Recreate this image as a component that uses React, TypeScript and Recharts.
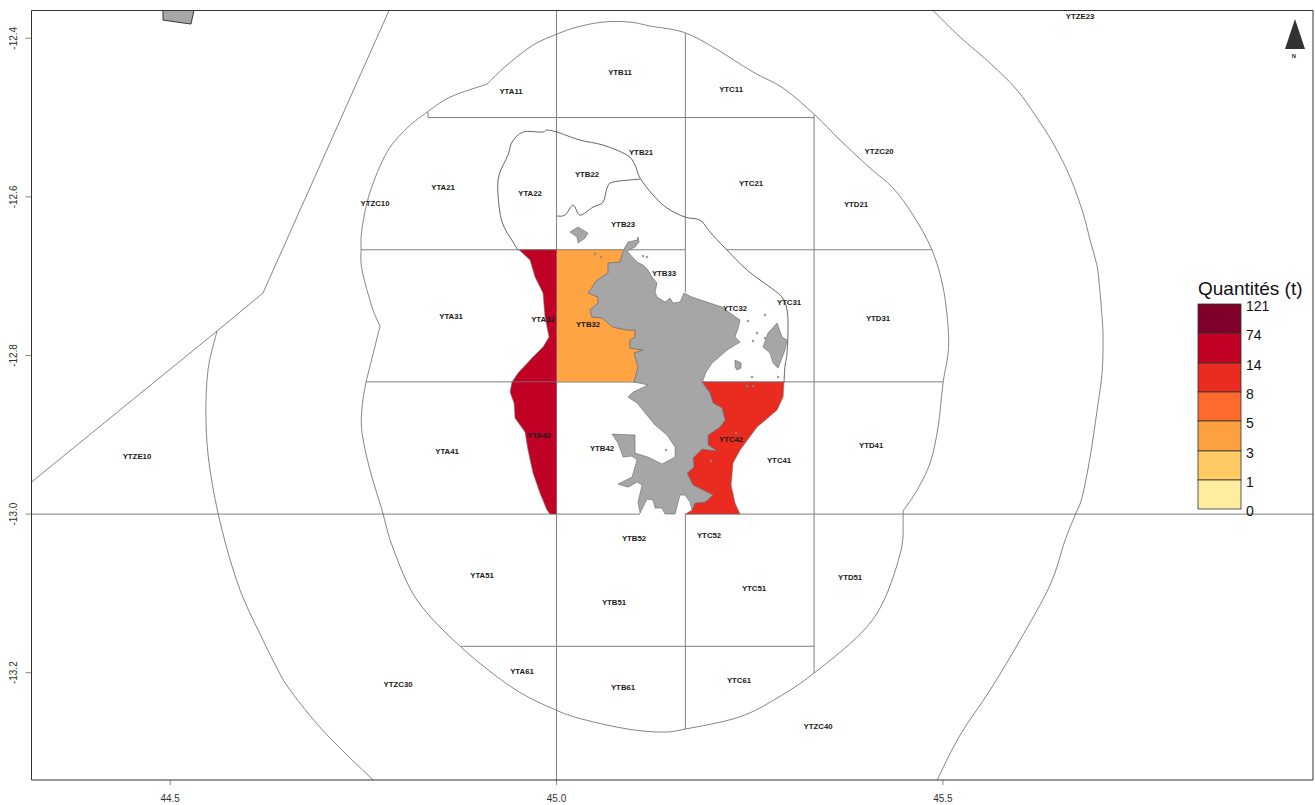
import React from "react";
import { ScatterChart, Scatter, XAxis, YAxis } from "recharts";

type Pt = [number, number];

const lonDomain: Pt = [44.3205, 45.979];
const latDomain: Pt = [-13.3353, -12.365];
const lonTicks = [44.5, 45, 45.5];
const latTicks = [-12.4, -12.6, -12.8, -13, -13.2];

const eezLine: Pt[] = [[44.3205, -12.9596], [44.5606, -12.7692], [44.6201, -12.7213], [44.7832, -12.365]];
const zcLeft: Pt[] = [[44.5606, -12.7692], [44.5489, -12.8184], [44.5463, -12.8815], [44.5515, -12.9445], [44.5671, -13.0202], [44.5904, -13.0958], [44.6201, -13.1589], [44.6395, -13.1967], [44.6525, -13.2182], [44.6835, -13.2572], [44.7159, -13.2913], [44.7625, -13.3353]];
const zcRight: Pt[] = [[45.4873, -12.365], [45.5222, -12.3985], [45.5611, -12.4313], [45.596, -12.4653], [45.6193, -12.4969], [45.6426, -12.5322], [45.6646, -12.575], [45.6814, -12.6204], [45.6905, -12.6545], [45.697, -12.6772], [45.7009, -12.6961], [45.706, -12.7516], [45.7073, -12.7806], [45.706, -12.8222], [45.6996, -12.8689], [45.6905, -12.9281], [45.6802, -12.9786], [45.6711, -13.0013], [45.6582, -13.0328], [45.6387, -13.0895], [45.5999, -13.1589], [45.5611, -13.2219], [45.5222, -13.2787], [45.4925, -13.3353]];
const reefRing: Pt[] = [[44.8324, -12.4931], [44.8622, -12.4742], [44.91, -12.4578], [44.9359, -12.4338], [44.9696, -12.4086], [45.0006, -12.3947], [45.0265, -12.3859], [45.0602, -12.3796], [45.0951, -12.3796], [45.121, -12.3846], [45.1637, -12.3922], [45.2026, -12.4111], [45.2543, -12.4426], [45.2932, -12.4628], [45.3346, -12.4969], [45.3669, -12.5284], [45.4058, -12.5637], [45.4355, -12.5889], [45.4614, -12.623], [45.486, -12.6671], [45.5002, -12.7138], [45.5067, -12.7642], [45.5067, -12.797], [45.5002, -12.8348], [45.4938, -12.8903], [45.4834, -12.9357], [45.4666, -12.9697], [45.4485, -12.9962], [45.4485, -13.0076], [45.4459, -13.0454], [45.4239, -13.1084], [45.3941, -13.1501], [45.3333, -13.2005], [45.2854, -13.232], [45.2362, -13.256], [45.1663, -13.2711], [45.1365, -13.2749], [45.0925, -13.2711], [45.0382, -13.2598], [44.9994, -13.2472], [44.9437, -13.2194], [44.8764, -13.1677], [44.8194, -13.1084], [44.7884, -13.0429], [44.7741, -12.995], [44.7586, -12.9445], [44.7483, -12.8979], [44.7483, -12.8651], [44.7534, -12.8335], [44.7716, -12.7629], [44.7612, -12.739], [44.7483, -12.6923], [44.747, -12.6671], [44.7483, -12.6394], [44.7586, -12.594], [44.7806, -12.5435], [44.8065, -12.5133], [44.8324, -12.4931]];
const ringBreaks = [0, 2, 27, 28, 48, 49, 57];
const coastLine: Pt[] = [[44.9502, -12.6671], [44.9437, -12.657], [44.9295, -12.6318], [44.9243, -12.5977], [44.9256, -12.5725], [44.9372, -12.5473], [44.9424, -12.5309], [44.9566, -12.5183], [44.9812, -12.5183], [44.9877, -12.5158], [45.0006, -12.5183], [45.0304, -12.5284], [45.0602, -12.5347], [45.0912, -12.5473], [45.1016, -12.5599], [45.1081, -12.5763], [45.1249, -12.5977], [45.143, -12.6141], [45.1663, -12.6255], [45.1857, -12.6293], [45.1987, -12.6444], [45.2181, -12.6646], [45.2466, -12.6923], [45.2725, -12.7112], [45.2919, -12.7264], [45.2983, -12.7428], [45.2996, -12.7642], [45.2983, -12.797], [45.2957, -12.8134], [45.2944, -12.8335]];
const innerLine: Pt[] = [[45.1081, -12.5776], [45.0731, -12.5813], [45.0654, -12.5889], [45.0602, -12.6066], [45.0472, -12.6129], [45.0304, -12.623], [45.0214, -12.6104], [45.011, -12.623], [45.0006, -12.6242]];

const gridSegments: Pt[][] = [
  [[44.8337, -12.4931], [44.8337, -12.5], [45.3333, -12.5]],
  [[44.747, -12.6667], [45.1667, -12.6667]],
  [[45.2207, -12.6667], [45.486, -12.6667]],
  [[44.7534, -12.8333], [45.5002, -12.8333]],
  [[44.3205, -13], [45.1081, -13]],
  [[45.1667, -13], [45.979, -13]],
  [[44.8764, -13.1667], [45.3333, -13.1667]],
  [[45, -12.365], [45, -13.3353]],
  [[45.1667, -12.3935], [45.1667, -12.7201]],
  [[45.1667, -13], [45.1667, -13.2711]],
  [[45.3333, -12.4969], [45.3333, -13.2005]],
];

const frameLine: Pt[] = [[44.3205, -12.365], [45.979, -12.365], [45.979, -13.3353], [44.3205, -13.3353], [44.3205, -12.365]];

const zoneYTB32: Pt[] = [[45, -12.6667], [45.0861, -12.6667], [45.0822, -12.6822], [45.0667, -12.6835], [45.0667, -12.6961], [45.0524, -12.7049], [45.0408, -12.7213], [45.0537, -12.7264], [45.0537, -12.7339], [45.0434, -12.7428], [45.0459, -12.7516], [45.0589, -12.7528], [45.0731, -12.7642], [45.0912, -12.768], [45.1016, -12.768], [45.1016, -12.7768], [45.0951, -12.7806], [45.0951, -12.7907], [45.112, -12.7932], [45.1003, -12.797], [45.1055, -12.8146], [45.1003, -12.8333], [45, -12.8333]];
const zoneYTA32: Pt[] = [[44.9515, -12.6667], [44.9657, -12.6797], [44.9722, -12.7011], [44.9825, -12.7213], [44.9851, -12.7516], [44.9903, -12.7768], [44.9825, -12.7894], [44.9683, -12.8033], [44.9502, -12.8222], [44.9424, -12.8333], [45, -12.8333], [45, -12.6667]];
const zoneYTA42: Pt[] = [[44.9424, -12.8333], [44.9398, -12.8462], [44.945, -12.86], [44.9463, -12.8789], [44.9592, -12.8966], [44.9631, -12.9193], [44.9696, -12.9483], [44.9786, -12.9735], [44.9877, -12.995], [44.9916, -13], [45, -13], [45, -12.8333]];
const zoneYTC42: Pt[] = [[45.2944, -12.8333], [45.2932, -12.8525], [45.2854, -12.8689], [45.2595, -12.8903], [45.2375, -12.9193], [45.2284, -12.9357], [45.2259, -12.9634], [45.231, -12.9861], [45.2375, -13], [45.1667, -13], [45.1754, -12.995], [45.1793, -12.9861], [45.1922, -12.9849], [45.2026, -12.976], [45.1948, -12.9723], [45.1767, -12.9634], [45.1689, -12.9483], [45.178, -12.9407], [45.1767, -12.9294], [45.1883, -12.918], [45.2077, -12.9206], [45.1961, -12.913], [45.1961, -12.9004], [45.2116, -12.8903], [45.2181, -12.8815], [45.2142, -12.8663], [45.2026, -12.86], [45.1987, -12.8474], [45.1883, -12.8333]];

const mainIsland: Pt[] = [[45.0887, -12.6633], [45.0925, -12.657], [45.1042, -12.6545], [45.1055, -12.6507], [45.1068, -12.657], [45.1016, -12.6633], [45.0912, -12.6684], [45.1042, -12.6822], [45.112, -12.686], [45.1184, -12.6923], [45.1236, -12.7011], [45.1301, -12.7087], [45.1275, -12.7201], [45.1301, -12.7264], [45.1404, -12.7327], [45.1469, -12.7276], [45.1508, -12.7339], [45.1598, -12.7327], [45.165, -12.7213], [45.1754, -12.7264], [45.1948, -12.7327], [45.2142, -12.739], [45.2246, -12.7465], [45.2375, -12.7554], [45.2349, -12.7655], [45.231, -12.7768], [45.2375, -12.7831], [45.2207, -12.7932], [45.209, -12.8033], [45.2013, -12.8096], [45.1935, -12.8209], [45.1883, -12.8348], [45.1987, -12.8474], [45.2026, -12.86], [45.2142, -12.8663], [45.2181, -12.8815], [45.2116, -12.8903], [45.1961, -12.9004], [45.1961, -12.913], [45.2077, -12.9206], [45.1883, -12.918], [45.1767, -12.9294], [45.178, -12.9407], [45.1689, -12.9483], [45.1767, -12.9634], [45.1948, -12.9723], [45.2026, -12.976], [45.1922, -12.9849], [45.1793, -12.9861], [45.1754, -12.995], [45.1728, -12.9849], [45.1663, -12.976], [45.1598, -12.976], [45.1573, -12.9849], [45.1534, -13], [45.1404, -13], [45.1365, -12.9924], [45.1275, -12.9924], [45.1249, -12.9823], [45.1171, -12.9811], [45.1081, -12.9987], [45.1055, -12.9849], [45.1107, -12.9634], [45.1042, -12.9596], [45.0925, -12.966], [45.0796, -12.9622], [45.0977, -12.9533], [45.1042, -12.9319], [45.0977, -12.9269], [45.0861, -12.9281], [45.0796, -12.9105], [45.0718, -12.8991], [45.1016, -12.9004], [45.1016, -12.9231], [45.1184, -12.9281], [45.1365, -12.9369], [45.1534, -12.9281], [45.1534, -12.9155], [45.143, -12.9004], [45.1275, -12.8878], [45.1042, -12.86], [45.0925, -12.8525], [45.099, -12.8462], [45.1184, -12.8373], [45.1003, -12.8335], [45.1055, -12.8146], [45.1003, -12.797], [45.112, -12.7932], [45.0951, -12.7907], [45.0951, -12.7806], [45.1016, -12.7768], [45.1016, -12.768], [45.0912, -12.768], [45.0731, -12.7642], [45.0589, -12.7528], [45.0459, -12.7516], [45.0434, -12.7428], [45.0537, -12.7339], [45.0537, -12.7264], [45.0408, -12.7213], [45.0524, -12.7049], [45.0667, -12.6961], [45.0667, -12.6835], [45.0822, -12.6822], [45.0861, -12.6696]];
const pamandzi: Pt[] = [[45.2854, -12.7591], [45.2919, -12.7768], [45.2983, -12.7806], [45.2957, -12.7932], [45.2867, -12.8159], [45.2802, -12.8096], [45.2763, -12.797], [45.2673, -12.7894], [45.2737, -12.7718]];
const islet: Pt[] = [[45.231, -12.8058], [45.2388, -12.8096], [45.2388, -12.8159], [45.2336, -12.8184], [45.231, -12.8146]];
const mtsamboro: Pt[] = [[45.0175, -12.6444], [45.0278, -12.6381], [45.0408, -12.6457], [45.0369, -12.652], [45.0278, -12.6583], [45.0265, -12.6507]];
const farIsland: Pt[] = [[44.4907, -12.365], [44.4907, -12.3771], [44.5269, -12.3821], [44.5308, -12.365]];
const specks: Pt[] = [[45.2479, -12.7566], [45.2699, -12.7491], [45.2595, -12.7718], [45.2699, -12.7781], [45.2543, -12.7818], [45.253, -12.8272], [45.2867, -12.8272], [45.112, -12.6747], [45.1171, -12.6759], [45.0498, -12.6721], [45.0576, -12.6759], [45.2466, -12.8386], [45.2543, -12.8386], [45.2323, -12.8979], [45.2, -12.9332], [45.1417, -12.9193]];

const sectorNames = ["YTZE23", "YTB11", "YTA11", "YTC11", "YTZC20", "YTB21", "YTA21", "YTC21", "YTB22", "YTA22", "YTZC10", "YTD21", "YTB23", "YTB33", "YTC31", "YTC32", "YTA31", "YTD31", "YTA32", "YTB32", "YTC42", "YTA42", "YTD41", "YTA41", "YTB42", "YTC41", "YTZE10", "YTB52", "YTC52", "YTA51", "YTD51", "YTC51", "YTB51", "YTA61", "YTB61", "YTC61", "YTZC30", "YTZC40"];
const sectorLons = [45.6776, 45.0822, 44.9411, 45.2259, 45.4174, 45.1094, 44.8531, 45.2517, 45.0395, 44.9657, 44.7651, 45.3876, 45.0861, 45.1391, 45.3009, 45.231, 44.8635, 45.4161, 44.9825, 45.0408, 45.2259, 44.9774, 45.4071, 44.8583, 45.0589, 45.288, 44.457, 45.1003, 45.1974, 44.9036, 45.3799, 45.2556, 45.0744, 44.9553, 45.0861, 45.2362, 44.7949, 45.3385];
const sectorLats = [-12.372, -12.4426, -12.4666, -12.4641, -12.5423, -12.5435, -12.5877, -12.5826, -12.5713, -12.5952, -12.6078, -12.6091, -12.6343, -12.6961, -12.7327, -12.7402, -12.7503, -12.7528, -12.7541, -12.7604, -12.9054, -12.9004, -12.913, -12.9206, -12.9168, -12.9319, -12.9269, -13.0303, -13.0265, -13.0769, -13.0794, -13.0933, -13.111, -13.198, -13.2182, -13.2093, -13.2144, -13.2673];

const legendTitle = "Quantités (t)";
const legendLabels = ["121", "74", "14", "8", "5", "3", "1", "0"];
const legendColors = ["#7F0028", "#C00024", "#EA2B1F", "#FD6A2E", "#FDA040", "#FECB65", "#FEEC9F"];

const GREY = "#A6A6A6";
const CRIMSON = legendColors[1];
const RED = legendColors[2];
const ORANGE = "#FFA343";
const FONT = "'Liberation Sans', Arial, sans-serif";

const toRows = (pts: Pt[]) => pts.map(([lon, lat]) => ({ lon, lat }));

const smoothPath = (q: { x: number; y: number }[]) => {
  let d = `M${q[0].x} ${q[0].y}`;
  for (let i = 0; i < q.length - 1; i++) {
    const a = q[Math.max(i - 1, 0)];
    const b = q[i];
    const c = q[i + 1];
    const e = q[Math.min(i + 2, q.length - 1)];
    d += `C${b.x + (c.x - a.x) / 6} ${b.y + (c.y - a.y) / 6} ${c.x - (e.x - b.x) / 6} ${c.y - (e.y - b.y) / 6} ${c.x} ${c.y}`;
  }
  return d;
};

const polyRenderer = (closed: boolean, fill: string, stroke: string, width: number, smooth: boolean) => (p: any) => {
  const d = smooth
    ? smoothPath(p.points)
    : p.points.map((q: any, i: number) => `${i ? "L" : "M"}${q.x} ${q.y}`).join("") + (closed ? "Z" : "");
  return <path d={d} fill={fill} stroke={stroke} strokeWidth={width} strokeLinejoin="round" />;
};

const noShape = () => <g />;

const poly = (key: string, pts: Pt[], closed: boolean, fill: string, stroke: string, width: number, smooth = false) => (
  <Scatter
    key={key}
    data={toRows(pts)}
    line={polyRenderer(closed, fill, stroke, width, smooth)}
    shape={noShape}
    isAnimationActive={false}
  />
);

const sectorRows = sectorNames.map((name, i) => ({ name, lon: sectorLons[i], lat: sectorLats[i] }));

const SectorLabel = (p: any) => (
  <text
    x={p.cx}
    y={p.cy}
    textAnchor="middle"
    dominantBaseline="central"
    fontFamily={FONT}
    fontWeight="bold"
    fontSize={7.8}
    fill="#1a1a1a"
  >
    {p.payload.name}
  </text>
);

const Speck = (p: any) => <circle cx={p.cx} cy={p.cy} r={1} fill={GREY} stroke="#555" strokeWidth={0.3} />;

const LatTick = (p: any) => (
  <text
    x={14}
    y={p.y}
    transform={`rotate(-90 14 ${p.y})`}
    textAnchor="middle"
    dominantBaseline="central"
    fontFamily={FONT}
    fontSize={10}
    fill="#333"
  >
    {Number(p.payload.value).toFixed(1)}
  </text>
);

const LonTick = (p: any) => (
  <text x={p.x} y={798} textAnchor="middle" dominantBaseline="central" fontFamily={FONT} fontSize={10} fill="#333">
    {Number(p.payload.value).toFixed(1)}
  </text>
);

const legendTops = [304, 333, 363, 392, 421, 451, 480, 509];

const Overlay = () => (
  <svg width={1315} height={805} style={{ position: "absolute", left: 0, top: 0, pointerEvents: "none" }}>
    <text x={1198} y={295} fontFamily={FONT} fontSize={19} fill="#111">
      {legendTitle}
    </text>
    {legendColors.map((c, i) => (
      <rect
        key={c}
        x={1198}
        y={legendTops[i]}
        width={43}
        height={legendTops[i + 1] - legendTops[i]}
        fill={c}
        stroke="#333"
        strokeWidth={0.8}
      />
    ))}
    {legendLabels.map((t, i) => (
      <text key={t} x={1246} y={legendTops[i] + 2} dominantBaseline="central" fontFamily={FONT} fontSize={14} fill="#111">
        {t}
      </text>
    ))}
    <polygon points="1295,19 1285,49 1305,49" fill="#333" />
    <text x={1294} y={56} textAnchor="middle" dominantBaseline="central" fontFamily={FONT} fontWeight="bold" fontSize={6} fill="#333">
      N
    </text>
  </svg>
);

export default function App() {
  return (
    <div style={{ position: "fixed", left: 0, top: 0, width: 1315, height: 805, background: "#fff", overflow: "hidden" }}>
      <ScatterChart width={1315} height={805} margin={{ top: 10.5, right: 2, bottom: 0, left: 0 }}>
        <XAxis
          type="number"
          dataKey="lon"
          domain={lonDomain}
          ticks={lonTicks}
          height={25}
          axisLine={false}
          tickSize={5}
          tickLine={{ stroke: "#888" }}
          tick={<LonTick />}
          interval={0}
        />
        <YAxis
          type="number"
          dataKey="lat"
          domain={latDomain}
          ticks={latTicks}
          width={31.5}
          axisLine={false}
          tickSize={6}
          tickLine={{ stroke: "#888" }}
          tick={<LatTick />}
          interval={0}
        />
        {gridSegments.map((s, i) => poly(`grid${i}`, s, false, "none", "#7f7f7f", 1))}
        {poly("eez", eezLine, false, "none", "#666", 0.8)}
        {poly("zcLeft", zcLeft, false, "none", "#666", 0.8, true)}
        {poly("zcRight", zcRight, false, "none", "#666", 0.8, true)}
        {ringBreaks.slice(1).map((end, i) =>
          poly(`ring${i}`, reefRing.slice(ringBreaks[i], end + 1), false, "none", "#666", 0.8, true)
        )}
        {poly("coast", coastLine, false, "none", "#555", 0.9, true)}
        {poly("inner", innerLine, false, "none", "#555", 0.9, true)}
        {poly("ytb32", zoneYTB32, true, ORANGE, "#888", 0.6)}
        {poly("yta32", zoneYTA32, true, CRIMSON, "#777", 0.6)}
        {poly("yta42", zoneYTA42, true, CRIMSON, "#777", 0.6)}
        {poly("ytc42", zoneYTC42, true, RED, "#777", 0.6)}
        {poly("main", mainIsland, true, GREY, "#555", 0.5)}
        {poly("pamandzi", pamandzi, true, GREY, "#555", 0.5)}
        {poly("islet", islet, true, GREY, "#555", 0.5)}
        {poly("mtsamboro", mtsamboro, true, GREY, "#555", 0.5)}
        {poly("far", farIsland, true, GREY, "#222", 0.9)}
        <Scatter data={toRows(specks)} shape={<Speck />} isAnimationActive={false} />
        {poly("frame", frameLine, false, "none", "#333", 1)}
        <Scatter data={sectorRows} shape={<SectorLabel />} isAnimationActive={false} />
      </ScatterChart>
      <Overlay />
    </div>
  );
}
